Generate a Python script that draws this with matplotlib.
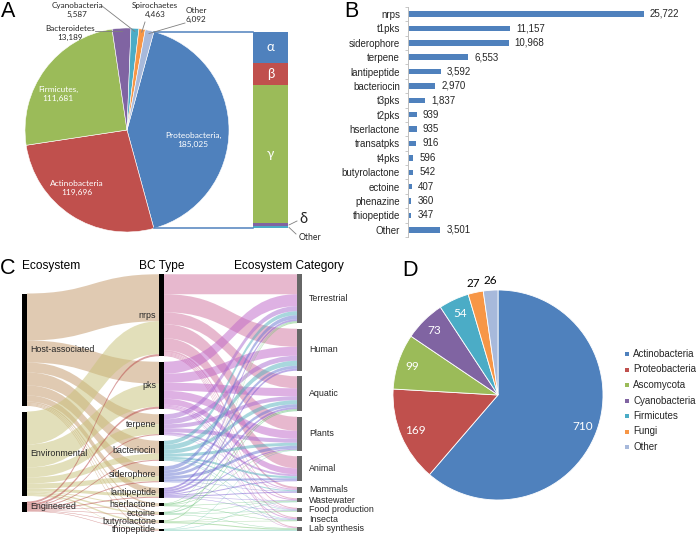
import numpy as np
import matplotlib
matplotlib.use('Agg')
import matplotlib.pyplot as plt
from matplotlib.path import Path
from matplotlib.patches import PathPatch

# ---------------- data ----------------
# Panel A: bacterial phyla (pie) and Proteobacteria classes (bar of pie)
phyla_a = ['Proteobacteria', 'Actinobacteria', 'Firmicutes', 'Bacteroidetes',
           'Cyanobacteria', 'Spirochaetes', 'Other']
counts_a = [185025, 119696, 111681, 13189, 5587, 4463, 6092]
proteo_classes = ['α', 'β', 'γ', 'δ', 'Other']
proteo_shares = [0.157, 0.112, 0.706, 0.015, 0.010]

# Panel B: BGC types
bc_types_b = ['nrps', 't1pks', 'siderophore', 'terpene', 'lantipeptide', 'bacteriocin',
              't3pks', 't2pks', 'hserlactone', 'transatpks', 't4pks', 'butyrolactone',
              'ectoine', 'phenazine', 'thiopeptide', 'Other']
bc_counts_b = [25722, 11157, 10968, 6553, 3592, 2970, 1837, 939, 935, 916, 596, 542,
               407, 360, 347, 3501]

# Panel C: alluvial ecosystem -> BC type -> ecosystem category (estimated)
ecosystems = ['Host-associated', 'Environmental', 'Engineered']
bc_types_c = ['nrps', 'pks', 'terpene', 'bacteriocin', 'siderophore', 'lantipeptide',
              'hserlactone', 'ectoine', 'butyrolactone', 'thiopeptide']
categories_c = ['Terrestrial', 'Human', 'Aquatic', 'Plants', 'Animal', 'Mammals',
                'Wastewater', 'Food production', 'Insecta', 'Lab synthesis']
eco_to_bc = [
    [47, 22, 10, 13, 10, 6, 1.5, 1.0, 1.0, 1.0],
    [33, 23, 10, 6, 5, 3, 1.0, 1.5, 1.5, 0.5],
    [2, 2, 1, 1, 1, 1, 0.5, 0.5, 0.5, 0.5],
]
bc_to_cat = [
    [20, 18, 12, 14, 12, 2, 1, 1, 1, 1],
    [12, 9, 8, 8, 6, 1, 1, 0.5, 1, 0.5],
    [5, 5, 4, 4, 2, 0.5, 0, 0.5, 0, 0],
    [4, 5, 4, 3, 2, 1, 0, 0.5, 0.5, 0],
    [4, 3, 3, 3, 2, 0.5, 0, 0, 0.5, 0],
    [2, 2, 2, 1, 1, 1, 0.5, 0.5, 0, 0],
    [0.5, 0, 1, 0.5, 0, 0, 0.5, 0, 0.5, 0],
    [0.5, 0, 1, 0, 0, 0, 0.5, 0.5, 0, 0.5],
    [1, 0, 0, 0, 0, 0, 0, 0.5, 0.5, 1],
    [0, 0, 0, 0.5, 0, 0, 0.5, 0, 0, 1],
]

# Panel D: producers
phyla_d = ['Actinobacteria', 'Proteobacteria', 'Ascomycota', 'Cyanobacteria',
           'Firmicutes', 'Fungi', 'Other']
counts_d = [710, 169, 99, 73, 54, 27, 26]

# ---------------- style ----------------
BLUE, RED, GREEN, PURPLE, TEAL, ORANGE, LIGHT = (
    '#4F81BD', '#C0504D', '#9BBB59', '#8064A2', '#4BACC6', '#F79646', '#A7B9DB')
pal7 = [BLUE, RED, GREEN, PURPLE, TEAL, ORANGE, LIGHT]
proteo_colors = [BLUE, RED, GREEN, PURPLE, TEAL]
eco_colors = ['#C49A6C', '#C9C27B', '#B84A4A']
bc_colors = ['#D1739F', '#BF65C8', '#A86AD0', '#52B0BC', '#6775D1', '#7A5AD1',
             '#55BA60', '#5FC07C', '#78C470', '#55BFA5']
SANS = ['Liberation Sans', 'DejaVu Sans']
CAL = ['Lato', 'DejaVu Sans']
TXT = '#262626'

W, H = 696, 534
fig = plt.figure(figsize=(W / 100, H / 100), dpi=100)

# background axes in pixel units (y measured upward)
ax0 = fig.add_axes([0, 0, 1, 1])


def P(x, y):
    return x, H - y


# ---------------- Panel A ----------------
cx, cy = P(127, 130)
r = 102
tot_a = sum(counts_a)
start = 360 * counts_a[0] / tot_a / 2
ax0.pie(counts_a, colors=pal7, startangle=start, counterclock=False,
        center=(cx, cy), radius=r,
        wedgeprops=dict(edgecolor='white', linewidth=0.4))
cum = np.concatenate([[0], np.cumsum(counts_a)]) / tot_a
mids = np.deg2rad(start - 360 * (cum[:-1] + cum[1:]) / 2)

top_pt = (cx + r * np.cos(np.deg2rad(start)), cy + r * np.sin(np.deg2rad(start)))
bot_pt = (cx + r * np.cos(np.deg2rad(-start)), cy + r * np.sin(np.deg2rad(-start)))
bar_x0, bar_w = 253, 35
bar_h = top_pt[1] - bot_pt[1]
shares = np.asarray(proteo_shares) / sum(proteo_shares)
seg_h = shares * bar_h
seg_bottom = top_pt[1] - np.cumsum(seg_h)
ax0.bar([bar_x0 + bar_w / 2] * len(seg_h), seg_h, bottom=seg_bottom, width=bar_w,
        color=proteo_colors, linewidth=0)
ax0.plot([top_pt[0], bar_x0], [top_pt[1], top_pt[1]], color=BLUE, lw=1.1)
ax0.plot([bot_pt[0], bar_x0], [bot_pt[1], bot_pt[1]], color=BLUE, lw=1.1)
for k in range(3):
    ax0.text(bar_x0 + bar_w / 2, seg_bottom[k] + seg_h[k] / 2, proteo_classes[k],
             color='white', fontsize=9.5, ha='center', va='center', family=CAL)
# delta and Other call-outs
ax0.plot([bar_x0 + bar_w + 1, bar_x0 + bar_w + 9], [seg_bottom[3] + seg_h[3] / 2, H - 221],
         color='#7F7F7F', lw=0.6)
ax0.text(bar_x0 + bar_w + 11, H - 219, proteo_classes[3], fontsize=10.5, color=TXT,
         ha='left', va='center', family=CAL)
ax0.plot([bar_x0 + bar_w + 1, bar_x0 + bar_w + 8], [seg_bottom[4] + seg_h[4] / 2, H - 234],
         color='#7F7F7F', lw=0.6)
ax0.text(bar_x0 + bar_w + 11, H - 238, proteo_classes[4], fontsize=6.2, color=TXT,
         ha='left', va='center', family=CAL)

inside_a = {0: (193, 140), 1: (77, 188), 2: (58, 94)}
inside_txt = {0: 'Proteobacteria,\n185,025', 1: 'Actinobacteria\n119,696',
              2: 'Firmicutes,\n111,681'}
for k, (x, y) in inside_a.items():
    ax0.text(*P(x, y), inside_txt[k], color='white', fontsize=6, ha='center',
             va='center', family=CAL, linespacing=1.35)

outside_a = {3: (70, 33), 4: (77, 10), 5: (155, 10), 6: (196, 15)}
leader_from = {3: (95, 31), 4: (102, 6), 5: (145, 22), 6: (185, 23)}
for k, (x, y) in outside_a.items():
    ax0.text(*P(x, y), f'{phyla_a[k]}\n{counts_a[k]:,}', color=TXT, fontsize=5.9,
             ha='center', va='center', family=CAL, linespacing=1.3)
    ex = cx + 0.97 * r * np.cos(mids[k])
    ey = cy + 0.97 * r * np.sin(mids[k])
    lx, ly = P(*leader_from[k])
    if k == 3:
        ax0.plot([lx, ex], [ly, ly], color='#7F7F7F', lw=0.6)
    else:
        ax0.plot([lx, ex], [ly, ey], color='#7F7F7F', lw=0.6)

# ---------------- Panel D ----------------
dcx, dcy = P(498, 395)
rd = 105
tot_d = sum(counts_d)
ax0.pie(counts_d, colors=pal7, startangle=90, counterclock=False,
        center=(dcx, dcy), radius=rd,
        wedgeprops=dict(edgecolor='white', linewidth=0.6))
cumd = np.concatenate([[0], np.cumsum(counts_d)]) / tot_d
midd = np.deg2rad(90 - 360 * (cumd[:-1] + cumd[1:]) / 2)
for k, v in enumerate(counts_d):
    inside = k < 5
    f = 0.86 if inside else 1.09
    ax0.text(dcx + f * rd * np.cos(midd[k]), dcy + f * rd * np.sin(midd[k]), str(v),
             color='white' if inside else 'black', fontsize=8.5, ha='center',
             va='center', family=CAL)
for k, name in enumerate(phyla_d):
    lx, ly = P(627, 354 + 15.5 * k)
    ax0.scatter([lx], [ly], marker='s', s=11, color=pal7[k], linewidths=0)
    ax0.text(lx + 6, ly, name, fontsize=7, color=TXT, ha='left', va='center',
             family=SANS)

ax0.set_xlim(0, W)
ax0.set_ylim(0, H)
ax0.set_aspect('auto')
ax0.axis('off')

# panel letters and C headers
for letter, (x, y) in zip('ABCD', [(1, 1), (344, 1), (0, 258), (402, 260)]):
    ax0.text(*P(x, y), letter, fontsize=15.5, ha='left', va='top', family=SANS,
             color='black')
for txt, x in zip(['Ecosystem', 'BC Type', 'Ecosystem Category'], [51, 162, 289]):
    ax0.text(*P(x, 266), txt, fontsize=8.6, ha='center', va='center', family=SANS,
             color='black')

# ---------------- Panel B ----------------
axB = fig.add_axes([408 / W, 1 - 237 / H, 275 / W, (237 - 6.8) / H])
axB.patch.set_alpha(0)
ypos = np.arange(len(bc_counts_b))
axB.barh(ypos, bc_counts_b, height=0.38, color=BLUE, linewidth=0)
for yv, v in zip(ypos, bc_counts_b):
    axB.annotate(f'{v:,}', xy=(v, yv), xytext=(4.5, 0), textcoords='offset points',
                 va='center', ha='left', fontsize=7, color=TXT, family=SANS)
axB.set_xlim(0, 30000)
axB.set_ylim(len(bc_counts_b) - 0.5, -0.5)
axB.set_yticks(ypos)
axB.set_yticklabels(bc_types_b, fontsize=7, color=TXT, family=SANS)
axB.set_yticks(np.arange(-0.5, len(bc_counts_b)), minor=True)
axB.tick_params(axis='y', which='major', length=0, pad=5.8)
axB.tick_params(axis='y', which='minor', length=2.5, color='#BFBFBF', width=0.6)
axB.set_xticks([])
for s in ['top', 'right', 'bottom']:
    axB.spines[s].set_visible(False)
axB.spines['left'].set_color('#BFBFBF')
axB.spines['left'].set_linewidth(0.7)

# ---------------- Panel C ----------------
axC = fig.add_axes([0, 0, 350 / W, (H - 262) / H])
axC.patch.set_alpha(0)
axC.set_xlim(0, 350)
axC.set_ylim(H - 402.5, 262 - 402.5)
axC.axis('off')

GAP = 5.5
axis_x = [22, 159, 297]
BW = 5


def stack_tops(heights, gap):
    heights = np.asarray(heights, float)
    total = heights.sum() + gap * (len(heights) - 1)
    return -total / 2 + np.concatenate([[0], np.cumsum(heights[:-1] + gap)])


def ribbon(ax, x0, x1, t0, b0, t1, b1, color, alpha):
    xm = (x0 + x1) / 2
    verts = [(x0, t0), (xm, t0), (xm, t1), (x1, t1), (x1, b1), (xm, b1), (xm, b0),
             (x0, b0), (x0, t0)]
    codes = [Path.MOVETO, Path.CURVE4, Path.CURVE4, Path.CURVE4, Path.LINETO,
             Path.CURVE4, Path.CURVE4, Path.CURVE4, Path.CLOSEPOLY]
    ax.add_patch(PathPatch(Path(verts, codes), facecolor=color, edgecolor='none',
                           alpha=alpha, zorder=1))


def draw_flows(ax, M, src_tops, tgt_tops, x0, x1, colors, alpha):
    M = np.asarray(M, float)
    for i in range(M.shape[0]):
        for j in range(M.shape[1]):
            v = M[i, j]
            if v <= 0:
                continue
            s = src_tops[i] + M[i, :j].sum()
            t = tgt_tops[j] + M[:i, j].sum()
            ribbon(ax, x0, x1, s, s + v, t, t + v, colors[i], alpha)


M1 = np.asarray(eco_to_bc, float)
M2 = np.asarray(bc_to_cat, float)
h_eco = M1.sum(axis=1)
h_bc = M1.sum(axis=0)
h_cat = M2.sum(axis=0)
t_eco = stack_tops(h_eco, GAP)
t_bc = stack_tops(h_bc, GAP)
t_cat = stack_tops(h_cat, GAP)

draw_flows(axC, M1, t_eco, t_bc, axis_x[0] + BW, axis_x[1], eco_colors, 0.52)
draw_flows(axC, M2, t_bc, t_cat, axis_x[1] + BW, axis_x[2], bc_colors, 0.5)

for xs, hs, ts, col in [(axis_x[0], h_eco, t_eco, 'black'),
                        (axis_x[1], h_bc, t_bc, 'black'),
                        (axis_x[2], h_cat, t_cat, '#666666')]:
    axC.bar([xs + BW / 2] * len(hs), hs, bottom=ts, width=BW, color=col,
            linewidth=0, zorder=3)

for name, h, t in zip(ecosystems, h_eco, t_eco):
    axC.text(axis_x[0] + BW + 3, t + h / 2, name, fontsize=6.4, ha='left',
             va='center', family=SANS, color=TXT, zorder=4)
for name, h, t in zip(bc_types_c, h_bc, t_bc):
    axC.text(axis_x[1] - 3, t + h / 2, name, fontsize=6.4, ha='right',
             va='center', family=SANS, color=TXT, zorder=4)
for name, h, t in zip(categories_c, h_cat, t_cat):
    axC.text(axis_x[2] + BW + 7, t + h / 2, name, fontsize=6.4, ha='left',
             va='center', family=SANS, color=TXT, zorder=4)

fig.savefig('out.png', dpi=100)
